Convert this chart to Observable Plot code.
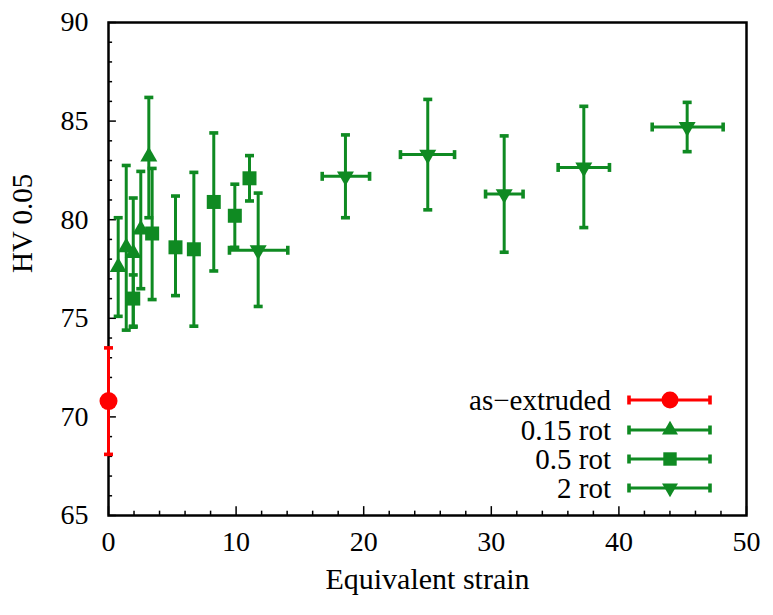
<!DOCTYPE html>
<html><head><meta charset="utf-8">
<script src="https://cdn.jsdelivr.net/npm/d3@7"></script>
<script src="https://cdn.jsdelivr.net/npm/@observablehq/plot@0.6"></script>
<style>
body{margin:0;background:#fff;font-family:'Liberation Serif',serif;}
svg text{font-family:'Liberation Serif',serif;}
</style>
</head><body>
<script>
// as-extruded
const extX = [0], extY = [70.8], extLo = [68.1], extHi = [73.5];
// 0.15 rot
const r015X = [0.76, 1.39, 1.94, 2.53, 3.16];
const r015Y = [77.6, 78.6, 78.3, 79.5, 83.2];
const r015Lo = [75.1, 74.4, 74.55, 76.5, 80.1];
const r015Hi = [80.1, 82.75, 81.1, 82.45, 86.2];
// 0.5 rot
const r05X = [1.94, 3.42, 5.25, 6.69, 8.25, 9.9, 11.05];
const r05Y = [76.0, 79.3, 78.6, 78.5, 80.9, 80.2, 82.1];
const r05Lo = [74.6, 75.95, 76.15, 74.6, 77.4, 78.6, 80.95];
const r05Hi = [77.2, 82.6, 81.2, 82.4, 84.4, 81.8, 83.25];
// 2 rot
const r2X = [11.73, 18.57, 25.02, 31.01, 37.25, 45.35];
const r2XLo = [9.48, 16.75, 22.88, 29.55, 35.24, 42.61];
const r2XHi = [14.05, 20.46, 27.12, 32.49, 39.26, 48.17];
const r2Y = [78.45, 82.2, 83.3, 81.3, 82.65, 84.7];
const r2Lo = [75.6, 80.1, 80.5, 78.35, 79.6, 83.45];
const r2Hi = [81.35, 84.3, 86.1, 84.25, 85.75, 85.95];
// axes
const xMajor = [0, 10, 20, 30, 40, 50];
const xMinor = [2, 4, 6, 8, 12, 14, 16, 18, 22, 24, 26, 28, 32, 34, 36, 38, 42, 44, 46, 48];
const yMajor = [65, 70, 75, 80, 85, 90];
const yMinor = [66, 67, 68, 69, 71, 72, 73, 74, 76, 77, 78, 79, 81, 82, 83, 84, 86, 87, 88, 89];
const legendLabels = ["as\u2212extruded", "0.15 rot", "0.5 rot", "2 rot"];
const xLabel = "Equivalent strain", yLabel = "HV 0.05";

const GREEN = "#0f8a22", RED = "#ff0000";
const FONT = "Liberation Serif";

const mk = (xs, ys, lo, hi, xlo, xhi) => xs.map((x, i) => ({
  x, y: ys[i], lo: lo[i], hi: hi[i],
  xlo: xlo ? xlo[i] : x, xhi: xhi ? xhi[i] : x
}));
const ext = mk(extX, extY, extLo, extHi);
const r015 = mk(r015X, r015Y, r015Lo, r015Hi);
const r05 = mk(r05X, r05Y, r05Lo, r05Hi);
const r2 = mk(r2X, r2Y, r2Lo, r2Hi, r2XLo, r2XHi);

const capH = {draw(ctx) { ctx.rect(-4.5, -1.8, 9, 3.6); }};
const capV = {draw(ctx) { ctx.rect(-1.8, -4.5, 3.6, 9); }};

function vBars(data, color) {
  return [
    Plot.ruleX(data, {x: "x", y1: "lo", y2: "hi", stroke: color, strokeWidth: 3}),
    Plot.dot(data, {x: "x", y: "lo", symbol: capH, fill: color, stroke: null, r: 3}),
    Plot.dot(data, {x: "x", y: "hi", symbol: capH, fill: color, stroke: null, r: 3})
  ];
}
function hBars(data, color) {
  return [
    Plot.ruleY(data, {y: "y", x1: "xlo", x2: "xhi", stroke: color, strokeWidth: 3}),
    Plot.dot(data, {x: "xlo", y: "y", symbol: capV, fill: color, stroke: null, r: 3}),
    Plot.dot(data, {x: "xhi", y: "y", symbol: capV, fill: color, stroke: null, r: 3})
  ];
}

const chart = Plot.plot({
  width: 773, height: 615,
  marginLeft: 108, marginRight: 27, marginTop: 22, marginBottom: 100,
  x: {domain: [0, 50]},
  y: {domain: [65, 90]},
  style: {fontFamily: FONT, fontSize: "28px", color: "black", background: "white"},
  marks: [
    Plot.axisX({ticks: xMajor, tickSize: 0, tickPadding: 16, label: null, fontSize: 28}),
    Plot.axisY({ticks: yMajor, tickSize: 0, tickPadding: 20, label: null, fontSize: 28}),
    Plot.ruleX(xMajor, {x: d => d, y1: 65, y2: 65.45, stroke: "black", strokeWidth: 1.5}),
    Plot.ruleX(xMinor, {x: d => d, y1: 65, y2: 65.22, stroke: "black", strokeWidth: 1.5}),
    Plot.ruleY(yMajor, {y: d => d, x1: 0, x2: 0.62, stroke: "black", strokeWidth: 1.5}),
    Plot.ruleY(yMinor, {y: d => d, x1: 0, x2: 0.32, stroke: "black", strokeWidth: 1.5}),
    Plot.frame({stroke: "black", strokeWidth: 2.5}),
    Plot.text([xLabel], {frameAnchor: "bottom", dy: 73, text: d => d, fontSize: 30}),
    Plot.text([yLabel], {frameAnchor: "left", dx: -86, dy: 4, rotate: -90, text: d => d, fontSize: 29}),
    ...vBars(ext, RED),
    Plot.dot(ext, {x: "x", y: "y", r: 9, fill: RED}),
    ...vBars(r015, GREEN),
    Plot.dot(r015, {x: "x", y: "y", symbol: "triangle", r: 6.3, fill: GREEN}),
    ...vBars(r05, GREEN),
    Plot.dot(r05, {x: "x", y: "y", symbol: "square", r: 7.9, fill: GREEN}),
    ...hBars(r2, GREEN),
    ...vBars(r2, GREEN),
    Plot.dot(r2, {x: "x", y: "y", symbol: "triangle", rotate: 180, r: 6.3, fill: GREEN})
  ]
});
document.body.appendChild(chart);

// legend drawn inside the Plot SVG
const leg = d3.select(chart).append("g").attr("class", "legend");
const rows = [
  {label: legendLabels[0], color: RED, sym: d3.symbolCircle, size: Math.PI * 8.5 * 8.5, rot: 0},
  {label: legendLabels[1], color: GREEN, sym: d3.symbolTriangle, size: 110, rot: 0},
  {label: legendLabels[2], color: GREEN, sym: d3.symbolSquare, size: 180, rot: 0},
  {label: legendLabels[3], color: GREEN, sym: d3.symbolTriangle, size: 110, rot: 180}
];
const rowY = [400, 430, 459, 488];
rows.forEach((r, i) => {
  const y = rowY[i];
  const g = leg.append("g");
  g.append("text").attr("x", 611).attr("y", y).attr("text-anchor", "end").attr("dy", "0.33em")
    .attr("font-size", 29).attr("fill", "black").text(r.label);
  g.append("line").attr("x1", 629).attr("x2", 710).attr("y1", y).attr("y2", y).attr("stroke", r.color).attr("stroke-width", 3);
  g.append("rect").attr("x", 627.2).attr("y", y - 4.5).attr("width", 3.6).attr("height", 9).attr("fill", r.color);
  g.append("rect").attr("x", 708.2).attr("y", y - 4.5).attr("width", 3.6).attr("height", 9).attr("fill", r.color);
  g.append("path").attr("d", d3.symbol(r.sym, r.size)()).attr("fill", r.color)
    .attr("transform", `translate(670,${y}) rotate(${r.rot})`);
});

// set the font on the root and on every text element as attribute and inline style
d3.select(chart).attr("font-family", FONT).style("font-family", FONT);
d3.select(chart).selectAll("g").attr("font-family", FONT);
d3.select(chart).selectAll("text").attr("font-family", FONT).style("font-family", FONT);
</script>
</body></html>
